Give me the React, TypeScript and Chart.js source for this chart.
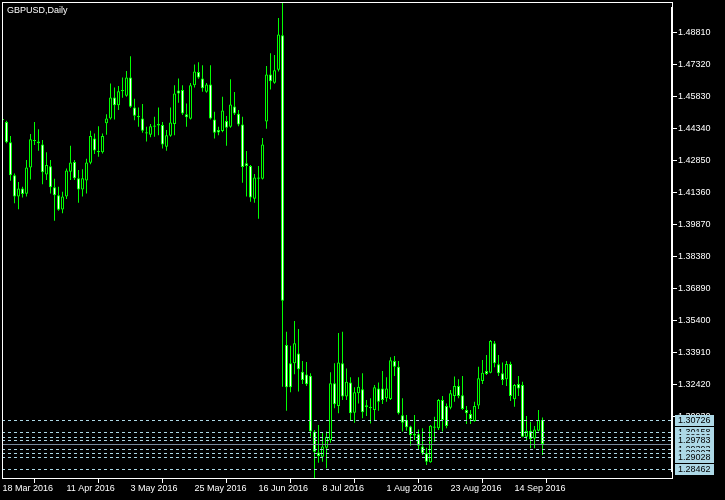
import React, { useEffect, useRef } from 'react';
import { Chart, registerables } from 'chart.js';

Chart.register(...registerables);

// ---- Data (GBPUSD daily, bar index 0 = 18 Mar 2016) ----
const openP = [
  1.4477, 1.4463, 1.4369, 1.4215, 1.4116, 1.4154, 1.4129, 1.4252, 1.4379, 1.4373,
  1.4359, 1.4219, 1.4257, 1.4159, 1.4122, 1.4056, 1.4116, 1.4232, 1.4277, 1.4201,
  1.4149, 1.4191, 1.4274, 1.4387, 1.4328, 1.4322, 1.4457, 1.4480, 1.4578, 1.4541,
  1.4612, 1.4586, 1.4671, 1.4531, 1.4491, 1.4480, 1.4416, 1.4404, 1.4441, 1.4447,
  1.4449, 1.4348, 1.4399, 1.4454, 1.4610, 1.4612, 1.4499, 1.4479, 1.4634, 1.4696,
  1.4666, 1.4604, 1.4638, 1.4475, 1.4426, 1.4421, 1.4468, 1.4441, 1.4536, 1.4502,
  1.4452, 1.4271, 1.4258, 1.4106, 1.4205, 1.4199, 1.4466, 1.4685, 1.4646, 1.4707,
  1.4867, 1.3425, 1.3340, 1.3340, 1.3386, 1.3301, 1.3288, 1.3282, 1.3022, 1.2924,
  1.2905, 1.2947, 1.2983, 1.3247, 1.3141, 1.3340, 1.3185, 1.3251, 1.3110, 1.3200,
  1.3219, 1.3144, 1.3136, 1.3122, 1.3223, 1.3223, 1.3177, 1.3174, 1.3351, 1.3324,
  1.3098, 1.3076, 1.3045, 1.3011, 1.3009, 1.2952, 1.2921, 1.2879, 1.3045, 1.3037,
  1.3169, 1.3141, 1.3133, 1.3188, 1.3234, 1.3191, 1.3122, 1.3104, 1.3071, 1.3143,
  1.3257, 1.3304, 1.3296, 1.3433, 1.3335, 1.3293, 1.3265, 1.3337, 1.3172, 1.3243,
  1.3239, 1.2998, 1.3026, 1.2990, 1.3026, 1.3076,
];
const highP = [
  1.4519, 1.4469, 1.4398, 1.4224, 1.4184, 1.4162, 1.4286, 1.4407, 1.4463, 1.4430,
  1.4379, 1.4323, 1.4286, 1.4199, 1.4162, 1.4139, 1.4247, 1.4353, 1.4286, 1.4240,
  1.4243, 1.4292, 1.4423, 1.4410, 1.4444, 1.4410, 1.4499, 1.4643, 1.4624, 1.4631,
  1.4670, 1.4701, 1.4770, 1.4572, 1.4531, 1.4547, 1.4441, 1.4454, 1.4488, 1.4531,
  1.4463, 1.4426, 1.4531, 1.4634, 1.4666, 1.4634, 1.4550, 1.4645, 1.4731, 1.4742,
  1.4728, 1.4645, 1.4728, 1.4511, 1.4441, 1.4581, 1.4491, 1.4662, 1.4603, 1.4519,
  1.4488, 1.4328, 1.4263, 1.4221, 1.4258, 1.4389, 1.4724, 1.4783, 1.4775, 1.4948,
  1.5019, 1.3487, 1.3422, 1.3537, 1.3500, 1.3351, 1.3346, 1.3293, 1.3029, 1.3053,
  1.3017, 1.3022, 1.3298, 1.3340, 1.3481, 1.3487, 1.3316, 1.3275, 1.3228, 1.3275,
  1.3293, 1.3169, 1.3177, 1.3239, 1.3251, 1.3304, 1.3275, 1.3368, 1.3374, 1.3351,
  1.3177, 1.3099, 1.3049, 1.3099, 1.3032, 1.3037, 1.2947, 1.3053, 1.3091, 1.3174,
  1.3188, 1.3153, 1.3216, 1.3278, 1.3265, 1.3281, 1.3141, 1.3122, 1.3161, 1.3324,
  1.3355, 1.3378, 1.3448, 1.3444, 1.3378, 1.3343, 1.3351, 1.3347, 1.3243, 1.3281,
  1.3254, 1.3094, 1.3068, 1.3048, 1.3122, 1.3088,
];
const lowP = [
  1.4436, 1.4364, 1.4190, 1.4085, 1.4057, 1.4112, 1.4116, 1.4196, 1.4356, 1.4330,
  1.4173, 1.4193, 1.4131, 1.4004, 1.4050, 1.4038, 1.4105, 1.4193, 1.4193, 1.4087,
  1.4116, 1.4131, 1.4267, 1.4314, 1.4302, 1.4317, 1.4404, 1.4475, 1.4475, 1.4519,
  1.4576, 1.4581, 1.4530, 1.4472, 1.4441, 1.4413, 1.4373, 1.4392, 1.4395, 1.4402,
  1.4340, 1.4330, 1.4395, 1.4402, 1.4553, 1.4496, 1.4441, 1.4475, 1.4624, 1.4665,
  1.4604, 1.4600, 1.4475, 1.4387, 1.4402, 1.4416, 1.4353, 1.4437, 1.4496, 1.4444,
  1.4181, 1.4116, 1.4092, 1.4087, 1.4013, 1.4196, 1.4432, 1.4615, 1.4642, 1.4698,
  1.3231, 1.3119, 1.3205, 1.3289, 1.3208, 1.3244, 1.3234, 1.2998, 1.2798, 1.2877,
  1.2882, 1.2851, 1.2970, 1.3130, 1.3107, 1.3169, 1.3169, 1.3073, 1.3063, 1.3153,
  1.3084, 1.3095, 1.3060, 1.3073, 1.3119, 1.3150, 1.3161, 1.3169, 1.3281, 1.3102,
  1.3022, 1.3026, 1.2956, 1.2983, 1.2936, 1.2913, 1.2866, 1.2877, 1.2975, 1.3029,
  1.3022, 1.3037, 1.3126, 1.3161, 1.3177, 1.3122, 1.3057, 1.3057, 1.3068, 1.3127,
  1.3243, 1.3285, 1.3293, 1.3321, 1.3281, 1.3239, 1.3234, 1.3164, 1.3138, 1.3188,
  1.2995, 1.2983, 1.2944, 1.2944, 1.3022, 1.2913,
];
const closeP = [
  1.4472, 1.4369, 1.4215, 1.4116, 1.4154, 1.4128, 1.4252, 1.4383, 1.4375, 1.4364,
  1.4229, 1.4263, 1.4159, 1.4122, 1.4055, 1.4117, 1.4238, 1.4275, 1.4201, 1.4149,
  1.4201, 1.4275, 1.4398, 1.4331, 1.4322, 1.4398, 1.4480, 1.4578, 1.4541, 1.4606,
  1.4606, 1.4671, 1.4534, 1.4492, 1.4485, 1.4423, 1.4410, 1.4444, 1.4447, 1.4454,
  1.4359, 1.4402, 1.4461, 1.4596, 1.4596, 1.4503, 1.4485, 1.4634, 1.4699, 1.4671,
  1.4620, 1.4638, 1.4480, 1.4413, 1.4415, 1.4517, 1.4437, 1.4545, 1.4503, 1.4452,
  1.4254, 1.4258, 1.4112, 1.4205, 1.4199, 1.4359, 1.4685, 1.4653, 1.4704, 1.4871,
  1.3631, 1.3228, 1.3228, 1.3433, 1.3312, 1.3262, 1.3242, 1.3022, 1.2928, 1.2908,
  1.2952, 1.2998, 1.3247, 1.3149, 1.3344, 1.3185, 1.3254, 1.3107, 1.3205, 1.3231,
  1.3112, 1.3136, 1.3130, 1.3228, 1.3161, 1.3169, 1.3223, 1.3354, 1.3324, 1.3107,
  1.3063, 1.3042, 1.3006, 1.3004, 1.2956, 1.2921, 1.2882, 1.3049, 1.3040, 1.3169,
  1.3076, 1.3048, 1.3200, 1.3234, 1.3188, 1.3127, 1.3107, 1.3080, 1.3141, 1.3270,
  1.3296, 1.3290, 1.3444, 1.3340, 1.3293, 1.3262, 1.3337, 1.3188, 1.3239, 1.3223,
  1.2998, 1.3026, 1.2987, 1.3032, 1.3076, 1.2964,
];

const xTickIdx = [0, 16, 32, 48, 64, 80, 96, 112, 128];
const xTickLabels = [
  '18 Mar 2016', '11 Apr 2016', '3 May 2016', '25 May 2016', '16 Jun 2016',
  '8 Jul 2016', '1 Aug 2016', '23 Aug 2016', '14 Sep 2016',
];
const yTicks = [
  1.3093, 1.3242, 1.3391, 1.354, 1.3689, 1.3838, 1.3987, 1.4136, 1.4285, 1.4434,
  1.4583, 1.4732, 1.4881,
];
const levelLines = [1.30726, 1.30158, 1.29966, 1.29783, 1.29393, 1.29207, 1.29028, 1.28462];
const chartTitle = 'GBPUSD,Daily';

const Y_MIN = 1.28011;
const Y_MAX = 1.50221;
const X_MIN = -0.125;
const X_MAX = 167.375;

const GREEN = '#00ff00';
const FONT = "'Liberation Sans', Arial, sans-serif";

const overlay = {
  id: 'mt4overlay',
  afterDatasetsDraw(chart: any) {
    const { ctx, chartArea, scales } = chart;
    const y = scales.y;
    ctx.save();
    ctx.lineWidth = 1;
    ctx.strokeStyle = '#add8e6';
    ctx.setLineDash([3, 3]);
    levelLines.forEach((v) => {
      const py = Math.floor(y.getPixelForValue(v)) + 0.5;
      ctx.beginPath();
      ctx.moveTo(chartArea.left, py);
      ctx.lineTo(chartArea.right, py);
      ctx.stroke();
    });
    ctx.setLineDash([]);
    ctx.strokeStyle = '#778899';
    const bid = closeP[closeP.length - 1];
    const by = Math.floor(y.getPixelForValue(bid)) + 0.5;
    ctx.beginPath();
    ctx.moveTo(chartArea.left, by);
    ctx.lineTo(chartArea.right, by);
    ctx.stroke();
    ctx.restore();
  },
  afterDraw(chart: any) {
    const { ctx, chartArea, scales } = chart;
    const y = scales.y;
    ctx.save();
    // frame
    ctx.strokeStyle = '#ffffff';
    ctx.lineWidth = 1;
    ctx.strokeRect(chartArea.left + 0.5, chartArea.top + 0.5, chartArea.right - chartArea.left, chartArea.bottom - chartArea.top - 1);
    ctx.fillStyle = '#ffffff';
    ctx.fillRect(chartArea.right - 1, 7, 2, 465);
    // title
    ctx.font = `9px ${FONT}`;
    ctx.textBaseline = 'alphabetic';
    ctx.textAlign = 'left';
    ctx.fillText(chartTitle, 7, 12.5);
    // level labels
    ctx.textBaseline = 'middle';
    levelLines.forEach((v) => {
      const py = Math.floor(y.getPixelForValue(v)) + 0.5;
      ctx.fillStyle = '#add8e6';
      ctx.fillRect(chartArea.right + 3, Math.round(py - 5.5), 39, 11);
      ctx.fillStyle = '#000000';
      ctx.fillText(v.toFixed(5), chartArea.right + 6, py + 0.5);
    });
    ctx.restore();
  },
};

export default function App() {
  const ref = useRef<HTMLCanvasElement | null>(null);
  useEffect(() => {
    if (!ref.current) return;
    const chart = new Chart(ref.current, {
      type: 'bar',
      data: {
        datasets: [
          {
            label: 'wick',
            data: lowP.map((l, i) => ({ x: i, y: [l, highP[i]] })) as any,
            backgroundColor: GREEN,
            borderWidth: 0,
            barThickness: 1,
            grouped: false,
            inflateAmount: 0,
            order: 2,
            clip: 0,
          } as any,
          {
            label: 'body',
            data: openP.map((o, i) => ({ x: i, y: [o, closeP[i]] })) as any,
            backgroundColor: openP.map((o, i) => (closeP[i] < o ? '#ffffff' : '#000000')),
            borderColor: GREEN,
            borderWidth: 1,
            borderSkipped: false,
            barThickness: 3,
            minBarLength: 1,
            grouped: false,
            inflateAmount: 0,
            order: 1,
            clip: 0,
          } as any,
        ],
      },
      options: {
        animation: false,
        responsive: false,
        events: [],
        layout: { padding: { left: 2, top: 2, right: 0, bottom: 0 } },
        plugins: { legend: { display: false }, tooltip: { enabled: false } },
        scales: {
          x: {
            type: 'linear',
            min: X_MIN,
            max: X_MAX,
            offset: false,
            grid: { display: true, drawOnChartArea: false, drawTicks: true, tickLength: 4, color: '#ffffff' },
            border: { display: false },
            ticks: {
              color: '#ffffff',
              font: { family: FONT, size: 9 },
              align: 'start',
              padding: 0,
              autoSkip: false,
              maxRotation: 0,
              minRotation: 0,
              callback: (v: any) => {
                const k = xTickIdx.indexOf(Number(v));
                return k >= 0 ? xTickLabels[k] : '';
              },
            },
            afterBuildTicks: (s: any) => {
              s.ticks = xTickIdx.map((v) => ({ value: v }));
            },
            afterFit: (s: any) => {
              s.height = 21;
              s.paddingLeft = 0;
              s.paddingRight = 0;
            },
          },
          y: {
            type: 'linear',
            position: 'right',
            min: Y_MIN,
            max: Y_MAX,
            grid: { display: true, drawOnChartArea: false, drawTicks: true, tickLength: 5, color: '#ffffff' },
            border: { display: false },
            ticks: {
              color: '#ffffff',
              font: { family: FONT, size: 9 },
              padding: 1,
              autoSkip: false,
              callback: (v: any) => Number(v).toFixed(5),
            },
            afterBuildTicks: (s: any) => {
              s.ticks = yTicks.map((v) => ({ value: v }));
            },
            afterFit: (s: any) => {
              s.width = 53;
              s.paddingTop = 0;
              s.paddingBottom = 0;
            },
          },
        },
      } as any,
      plugins: [overlay],
    });
    return () => chart.destroy();
  }, []);
  return (
    <div style={{ position: 'fixed', left: 0, top: 0, width: 725, height: 500, background: '#000000' }}>
      <canvas ref={ref} width={725} height={500} style={{ width: 725, height: 500, display: 'block' }} />
    </div>
  );
}
